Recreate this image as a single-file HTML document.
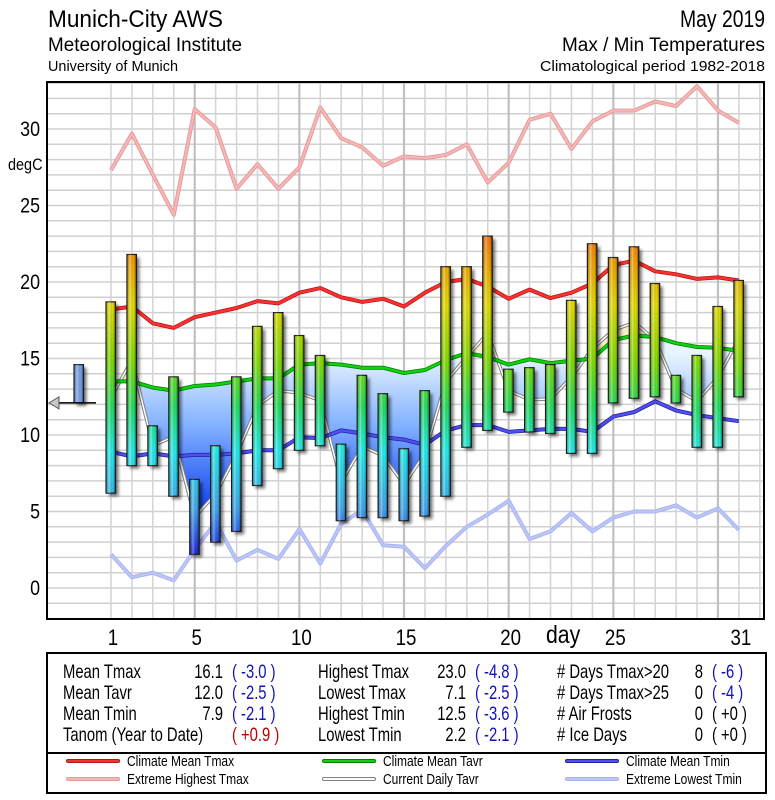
<!DOCTYPE html>
<html><head><meta charset="utf-8">
<style>
html,body{margin:0;padding:0;background:#fff;}
svg{display:block;}
text{font-family:"Liberation Sans Narrow","Liberation Sans",sans-serif;}
</style></head>
<body>
<svg id="chart" width="775" height="800" viewBox="0 0 775 800" xmlns="http://www.w3.org/2000/svg">
<defs>
  <linearGradient id="tempGrad" gradientUnits="userSpaceOnUse" x1="0" y1="220" x2="0" y2="560">
    <stop offset="0" stop-color="#ff5a20"/>
    <stop offset="0.12" stop-color="#f5a000"/>
    <stop offset="0.25" stop-color="#e8e000"/>
    <stop offset="0.42" stop-color="#80e000"/>
    <stop offset="0.55" stop-color="#20e060"/>
    <stop offset="0.68" stop-color="#20f0f0"/>
    <stop offset="0.85" stop-color="#40a8f0"/>
    <stop offset="1" stop-color="#1818e0"/>
  </linearGradient>
  <linearGradient id="cyl" x1="0" y1="0" x2="1" y2="0">
    <stop offset="0" stop-color="#000" stop-opacity="0.25"/>
    <stop offset="0.35" stop-color="#fff" stop-opacity="0.35"/>
    <stop offset="0.7" stop-color="#000" stop-opacity="0"/>
    <stop offset="1" stop-color="#000" stop-opacity="0.45"/>
  </linearGradient>
  <linearGradient id="blueFill" gradientUnits="userSpaceOnUse" x1="0" y1="355" x2="0" y2="560">
    <stop offset="0" stop-color="#e8f4ff"/>
    <stop offset="0.35" stop-color="#80b0ff"/>
    <stop offset="0.7" stop-color="#2050f0"/>
    <stop offset="1" stop-color="#0008d0"/>
  </linearGradient>
  <filter id="shadow" x="-50%" y="-10%" width="200%" height="120%">
    <feGaussianBlur stdDeviation="1.5"/>
  </filter>
  <clipPath id="belowClim"><path id="belowClimPath" d=""/></clipPath>
  <clipPath id="aboveClim"><path id="aboveClimPath" d=""/></clipPath>
</defs>

<g>
  <text x="48" y="27" font-size="24" textLength="175" lengthAdjust="spacingAndGlyphs">Munich-City AWS</text>
  <text x="48" y="51" font-size="19" textLength="194" lengthAdjust="spacingAndGlyphs">Meteorological Institute</text>
  <text x="48" y="71" font-size="15" textLength="130" lengthAdjust="spacingAndGlyphs">University of Munich</text>
  <text x="765" y="27" font-size="24" text-anchor="end" textLength="85" lengthAdjust="spacingAndGlyphs">May 2019</text>
  <text x="765" y="51" font-size="19" text-anchor="end" textLength="203" lengthAdjust="spacingAndGlyphs">Max / Min Temperatures</text>
  <text x="765" y="71" font-size="15" text-anchor="end" textLength="225" lengthAdjust="spacingAndGlyphs">Climatological period 1982-2018</text>
</g>

<g id="grid"></g>
<g id="axes"></g>
<g id="series"></g>
<g id="bars"></g>
<rect x="47" y="82" width="717" height="537" fill="none" stroke="#000" stroke-width="2"/>

<g>
  <rect x="47" y="653" width="719" height="100" fill="#fff" stroke="#000" stroke-width="2"/>
  <rect x="47" y="753" width="719" height="40" fill="#fff" stroke="#000" stroke-width="2"/>
  <g id="statsRows"></g>
  <g id="legendRows"></g>
</g>

<script>
// ---- data ----
const days = [1,2,3,4,5,6,7,8,9,10,11,12,13,14,15,16,17,18,19,20,21,22,23,24,25,26,27,28,29,30,31];
const tmax = [18.7,21.8,10.6,13.8,7.1,9.3,13.8,17.1,18.0,16.5,15.2,9.4,13.9,12.7,9.1,12.9,21.0,21.0,23.0,14.3,14.4,14.6,18.8,22.5,21.6,22.3,19.9,13.9,15.2,18.4,20.1];
const tmin = [6.2,8.0,8.0,6.0,2.2,3.0,3.7,6.7,7.8,9.0,9.3,4.4,4.6,4.6,4.4,4.7,6.0,9.2,10.3,11.5,10.2,10.1,8.8,8.8,12.1,12.4,12.5,12.1,9.2,9.2,12.5];
const climTmax = [18.2,18.4,17.3,17.0,17.7,18.0,18.3,18.75,18.6,19.3,19.6,19.0,18.7,18.9,18.4,19.3,20.0,20.2,19.7,18.9,19.5,18.95,19.3,19.9,21.1,21.4,20.7,20.5,20.2,20.3,20.1];
const extTmax = [27.3,29.7,27.0,24.4,31.3,30.1,26.1,27.7,26.1,27.5,31.4,29.4,28.8,27.6,28.2,28.1,28.3,29.0,26.5,27.8,30.6,31.0,28.7,30.5,31.2,31.2,31.8,31.5,32.8,31.2,30.4];
const climTmin = [8.9,8.6,8.8,8.6,8.7,8.7,8.8,9.0,9.0,9.85,9.8,10.3,10.1,9.85,9.7,9.35,10.3,10.65,10.65,10.2,10.3,10.4,10.4,10.2,11.2,11.5,12.2,11.6,11.3,11.1,10.9];
const extTmin = [2.2,0.7,1.0,0.5,2.5,4.3,1.8,2.5,1.9,3.85,1.6,4.2,5.1,2.8,2.7,1.3,2.75,4.0,4.8,5.7,3.2,3.7,4.9,3.7,4.6,5.0,5.0,5.4,4.6,5.2,3.8];
const climTavr = [13.5,13.5,13.1,12.9,13.2,13.3,13.5,13.7,13.7,14.6,14.7,14.6,14.4,14.4,14.05,14.25,14.9,15.35,15.1,14.6,14.95,14.7,14.85,15.0,16.2,16.5,16.4,16.0,15.75,15.7,15.5];
const yTicks = [0,5,10,15,20,25,30];
const xTicks = [1,5,10,15,20,25,31];
const tanomBar = [12.1,14.6];

// ---- scales ----
function X(d){ return 111 + (d-1)*20.93; }
function Y(t){ return 588 - 15.3*t; }
const NS = "http://www.w3.org/2000/svg";
function mk(tag, attrs, parent){
  const e = document.createElementNS(NS, tag);
  for (const k in attrs) e.setAttribute(k, attrs[k]);
  parent.appendChild(e); return e;
}
// condensed text helper
function ctext(parent, x, y, s, size, sx, anchor, color){
  const e = mk('text',{x:0,y:0,'font-size':size,'text-anchor':anchor||'start',fill:color||'#000',transform:`translate(${x},${y}) scale(${sx},1)`},parent);
  e.textContent = s; return e;
}
const grid = document.getElementById('grid');
const axes = document.getElementById('axes');
const series = document.getElementById('series');
const bars = document.getElementById('bars');

// grid
for (let t=-1; t<=33; t++){
  const l = mk('line',{x1:47,x2:764,y1:Y(t),y2:Y(t),stroke:'#d0d0d0','stroke-width':1.5},grid);
  
  
}
for (let d=1; d<=32; d++){
  const xx = X(d); if (xx>763) continue;
  const l = mk('line',{x1:xx,x2:xx,y1:82,y2:619,stroke:(d%5===0)?'#c0c0c0':'#d4d4d4','stroke-width':(d%5===0)?2.2:1.5},grid);
  
  
}
// y ticks
yTicks.forEach(t=>{
  const e = ctext(axes, 40, Y(t)+7, String(t), 21, 0.85, 'end');
  
  
});
const du = ctext(axes, 8, 170, 'degC', 17, 0.85, 'start');


xTicks.forEach(d=>{
  const e = ctext(axes, X(d)+2, 645, String(d), 22, 0.85, 'middle');
  
  
});
const dl = ctext(axes, 546, 643, 'day', 25, 0.85, 'start');



function pts(arr){ return arr.map((v,i)=>X(days[i]).toFixed(1)+','+Y(v).toFixed(1)); }
function line(arr, color, w, name){
  const p = mk('polyline',{points:pts(arr).join(' '),fill:'none',stroke:color,'stroke-width':w,'stroke-linejoin':'round'},series);
  
  
  return p;
}
// extremes
line(extTmax,'#e89a9a',4,'extreme-highest-tmax-outline');
line(extTmax,'#f5b8b8',2,'extreme-highest-tmax-line');
line(extTmin,'#a8b4f0',4,'extreme-lowest-tmin-outline');
line(extTmin,'#bcc6f8',2,'extreme-lowest-tmin-line');

// current tavr
const tavr = tmax.map((v,i)=>(v+tmin[i])/2);
const climPts = pts(climTavr), curPts = pts(tavr);
document.getElementById('belowClimPath').setAttribute('d','M'+climPts.join(' L')+' L'+X(31)+',640 L'+X(1)+',640 Z');
document.getElementById('aboveClimPath').setAttribute('d','M'+climPts.join(' L')+' L'+X(31)+',60 L'+X(1)+',60 Z');
const areaD = 'M'+climPts.join(' L')+' L'+curPts.slice().reverse().join(' L')+' Z';
const ab = mk('path',{d:areaD,fill:'url(#blueFill)','clip-path':'url(#belowClim)'},series);


const aa = mk('path',{d:areaD,fill:'#fbeccb','clip-path':'url(#aboveClim)'},series);


line(tavr,'#808080',3.5,'current-daily-tavr-outline');
line(tavr,'#ffffff',1.5,'current-daily-tavr-line');

// climate lines
line(climTmax,'#b01818',4,'climate-mean-tmax-outline');
line(climTmax,'#ff3030',2.5,'climate-mean-tmax-line');
line(climTavr,'#008000',4,'climate-mean-tavr-outline');
line(climTavr,'#10d010',2.5,'climate-mean-tavr-line');
line(climTmin,'#2020a0',4,'climate-mean-tmin-outline');
line(climTmin,'#5050f0',2.5,'climate-mean-tmin-line');

// bars
function bar(xc, lo, hi, fill, name){
  const x0 = xc-5, w = 9.5, y0 = Y(hi), h = Y(lo)-Y(hi);
  const s = mk('rect',{x:x0+3,y:y0+3,width:w,height:h,fill:'#000',opacity:0.55,filter:'url(#shadow)'},bars);
  
  
  const r = mk('rect',{x:x0,y:y0,width:w,height:h,fill:fill,stroke:'#202020','stroke-width':1.2},bars);
  
  
  const c = mk('rect',{x:x0,y:y0,width:w,height:h,fill:'url(#cyl)'},bars);
  
  
}
days.forEach((d,i)=>bar(X(d), tmin[i], tmax[i], 'url(#tempGrad)', 'bar-day-'+d));

// tanom marker
bar(79, tanomBar[0], tanomBar[1], '#7aa0f0', 'tanom-bar');
const ml = mk('line',{x1:58,x2:96,y1:Y(tanomBar[0]),y2:Y(tanomBar[0]),stroke:'#000','stroke-width':1.5},bars);


const yA = Y(tanomBar[0]);
const tri = mk('polygon',{points:`49,${yA} 59,${yA-6} 59,${yA+6}`,fill:'#c8c8c8',stroke:'#555','stroke-width':1},bars);



// stats table
const statsRows = document.getElementById('statsRows');
const rowsY = [678,699,720,741];
const col1 = [['Mean Tmax','16.1','( -3.0 )','#1010c0'],['Mean Tavr','12.0','( -2.5 )','#1010c0'],['Mean Tmin','7.9','( -2.1 )','#1010c0'],['Tanom (Year to Date)','','( +0.9 )','#c00000']];
const col2 = [['Highest Tmax','23.0','( -4.8 )','#1010c0'],['Lowest Tmax','7.1','( -2.5 )','#1010c0'],['Highest Tmin','12.5','( -3.6 )','#1010c0'],['Lowest Tmin','2.2','( -2.1 )','#1010c0']];
const col3 = [['# Days Tmax>20','8','( -6 )','#1010c0'],['# Days Tmax>25','0','( -4 )','#1010c0'],['# Air Frosts','0','( +0 )','#000'],['# Ice Days','0','( +0 )','#000']];
function tx(x,y,s,anchor,color,name){
  const e = ctext(statsRows, x, y, s, 19, 0.78, anchor, color);
  
  
  return e;
}
[[col1,63,223,232],[col2,318,466,475],[col3,557,703,712]].forEach(([col,lx,vx,px])=>{
  col.forEach((r,i)=>{
    tx(lx,rowsY[i],r[0],'start','#000','stat-label');
    if (r[1]) tx(vx,rowsY[i],r[1],'end','#000','stat-value');
    tx(px,rowsY[i],r[2],'start',r[3],'stat-anomaly');
  });
});

// legend
const legendRows = document.getElementById('legendRows');
const legend = [
  [68,766,'#ff3030','#b01818','Climate Mean Tmax'],
  [68,784,'#f5b8b8','#e89a9a','Extreme Highest Tmax'],
  [324,766,'#10d010','#008000','Climate Mean Tavr'],
  [324,784,'#ffffff','#808080','Current Daily Tavr'],
  [567,766,'#5050f0','#2020a0','Climate Mean Tmin'],
  [567,784,'#bcc6f8','#a8b4f0','Extreme Lowest Tmin']
];
legend.forEach(([x,y,c,o,label])=>{
  const l1 = mk('line',{x1:x,x2:x+50,y1:y-5,y2:y-5,stroke:o,'stroke-width':4,'stroke-linecap':'round'},legendRows);
  
  
  const l2 = mk('line',{x1:x,x2:x+50,y1:y-5,y2:y-5,stroke:c,'stroke-width':2,'stroke-linecap':'round'},legendRows);
  
  
  const t = ctext(legendRows, x+59, y, label, 15, 0.8, 'start', '#000');
  
  
});
</script>
</svg>
</body></html>
